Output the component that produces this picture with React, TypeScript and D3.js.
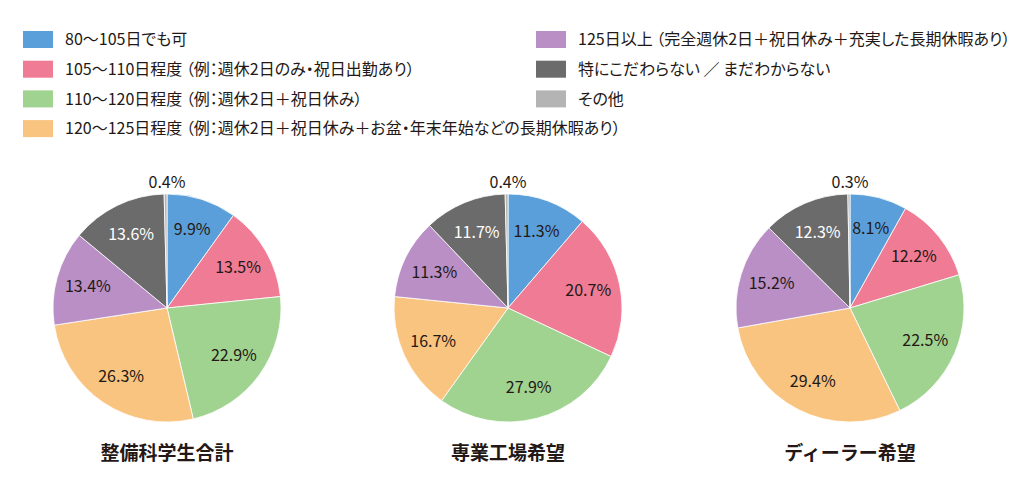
import React from 'react';
import * as d3 from 'd3';

const categories = [
  '80～105日でも可',
  '105～110日程度 （例：週休2日のみ・祝日出勤あり）',
  '110～120日程度 （例：週休2日＋祝日休み）',
  '120～125日程度 （例：週休2日＋祝日休み＋お盆・年末年始などの長期休暇あり）',
  '125日以上 （完全週休2日＋祝日休み＋充実した長期休暇あり）',
  '特にこだわらない ／ まだわからない',
  'その他',
];

const colours = ['#5b9fda', '#ef7b94', '#a0d290', '#f9c47f', '#b98fc6', '#6b6b6b', '#b4b4b4'];

const groupNames = ['整備科学生合計', '専業工場希望', 'ディーラー希望'];

const totalValues = [9.9, 13.5, 22.9, 26.3, 13.4, 13.6, 0.4];
const factoryValues = [11.3, 20.7, 27.9, 16.7, 11.3, 11.7, 0.4];
const dealerValues = [8.1, 12.2, 22.5, 29.4, 15.2, 12.3, 0.3];

const seriesList = [totalValues, factoryValues, dealerValues];

const WIDTH = 1024;
const HEIGHT = 495;
const FONT = '"Noto Sans CJK JP", "Noto Sans", sans-serif';

interface Slice {
  label: string;
  value: number;
  index: number;
}

const PieGroup: React.FC<{ values: number[]; title: string; cx: number; cy: number; r: number }> = ({
  values,
  title,
  cx,
  cy,
  r,
}) => {
  const data: Slice[] = values.map((v, i) => ({ label: categories[i], value: v, index: i }));

  const pie = d3.pie<Slice>().value(d => d.value).sort(null);
  const arc = d3.arc<d3.PieArcDatum<Slice>>().innerRadius(0).outerRadius(r);
  const labelArc = d3.arc<d3.PieArcDatum<Slice>>().innerRadius(r * 0.72).outerRadius(r * 0.72);
  const arcs = pie(data);

  return (
    <g transform={`translate(${cx},${cy})`}>
      {arcs.map(a => (
        <path key={a.index} d={arc(a) || ''} fill={colours[a.data.index]} stroke="#fff" strokeWidth={0.8} />
      ))}
      {arcs.map(a => {
        // tiny slice gets its label above the pie
        const small = a.data.value < 2;
        const [x, y] = small ? [0, -r - 12] : labelArc.centroid(a);
        return (
          <text
            key={`t${a.index}`}
            x={x}
            y={y}
            dy="0.35em"
            textAnchor="middle"
            fontFamily={FONT}
            fontSize={16}
            fill={a.data.index === 5 ? '#ffffff' : '#231815'}
          >
            {`${a.data.value.toFixed(1)}%`}
          </text>
        );
      })}
      <text
        x={0}
        y={r + 38}
        textAnchor="middle"
        fontFamily={FONT}
        fontSize={19}
        fontWeight="bold"
        fill="#231815"
      >
        {title}
      </text>
    </g>
  );
};

const App: React.FC = () => {
  const legendLeft = categories.slice(0, 4);
  const legendRight = categories.slice(4);
  const centers = [167, 508, 850];

  const legendText = { fontFamily: FONT, fontSize: 16, fill: '#231815', style: { fontFeatureSettings: '"palt"' } };

  return (
    <svg width={WIDTH} height={HEIGHT} style={{ position: 'absolute', left: 0, top: 0, background: '#fff' }}>
      {legendLeft.map((c, i) => (
        <g key={c} transform={`translate(23, ${31 + i * 29.7})`}>
          <rect width={30} height={17} fill={colours[i]} />
          <text x={42} y={8.5} dy="0.36em" {...legendText}>
            {c}
          </text>
        </g>
      ))}
      {legendRight.map((c, i) => (
        <g key={c} transform={`translate(536, ${31 + i * 29.7})`}>
          <rect width={30} height={17} fill={colours[i + 4]} />
          <text x={42} y={8.5} dy="0.36em" {...legendText}>
            {c}
          </text>
        </g>
      ))}
      {seriesList.map((vals, i) => (
        <PieGroup key={groupNames[i]} values={vals} title={groupNames[i]} cx={centers[i]} cy={308} r={114} />
      ))}
    </svg>
  );
};

export default App;
